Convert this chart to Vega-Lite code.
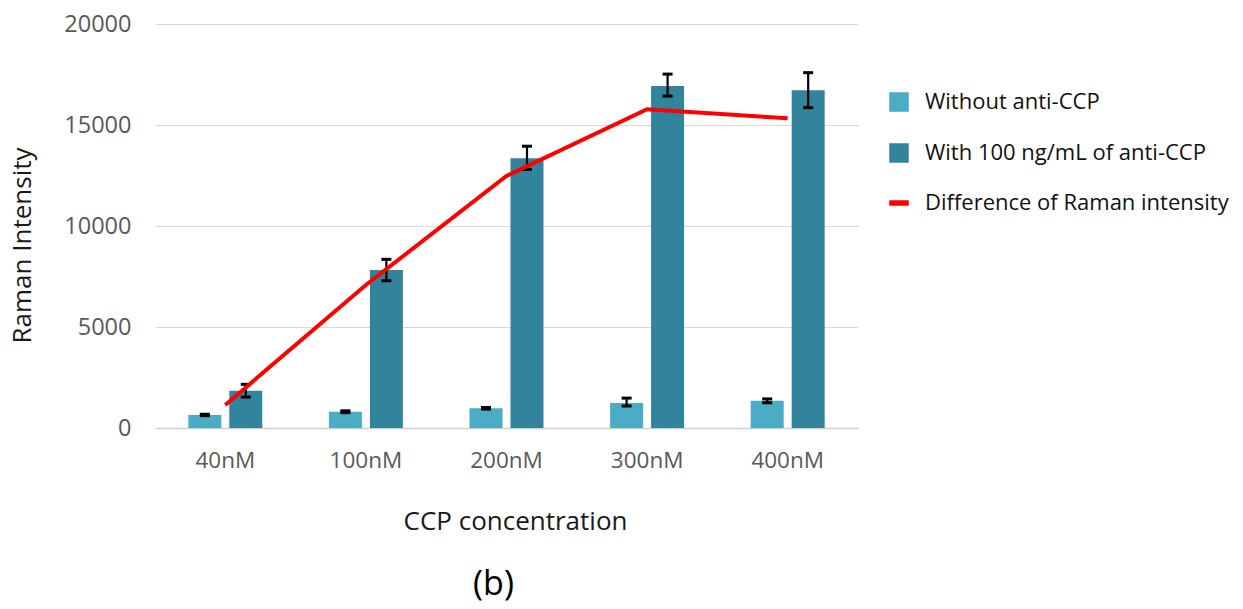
{
  "$schema": "https://vega.github.io/schema/vega-lite/v6.json",
  "autosize": {"type": "none"},
  "width": 703,
  "height": 404,
  "padding": {"left": 155, "top": 24, "right": 385, "bottom": 181},
  "background": "white",
  "config": {
    "view": {"stroke": null},
    "font": "Open Sans"
  },
  "title": {
    "text": "(b)",
    "orient": "bottom",
    "frame": "group",
    "anchor": "middle",
    "dx": -13,
    "offset": 34,
    "fontSize": 34,
    "fontWeight": "normal",
    "color": "#000000"
  },
  "datasets": {
    "bars": [
      {"conc": "40nM", "series": "Without anti-CCP", "value": 645, "lo": 610, "hi": 680},
      {"conc": "40nM", "series": "With 100 ng/mL of anti-CCP", "value": 1850, "lo": 1530, "hi": 2160},
      {"conc": "100nM", "series": "Without anti-CCP", "value": 805, "lo": 760, "hi": 850},
      {"conc": "100nM", "series": "With 100 ng/mL of anti-CCP", "value": 7820, "lo": 7290, "hi": 8350},
      {"conc": "200nM", "series": "Without anti-CCP", "value": 975, "lo": 935, "hi": 1015},
      {"conc": "200nM", "series": "With 100 ng/mL of anti-CCP", "value": 13350, "lo": 12800, "hi": 13950},
      {"conc": "300nM", "series": "Without anti-CCP", "value": 1240, "lo": 1090, "hi": 1480},
      {"conc": "300nM", "series": "With 100 ng/mL of anti-CCP", "value": 16930, "lo": 16430, "hi": 17520},
      {"conc": "400nM", "series": "Without anti-CCP", "value": 1350, "lo": 1250, "hi": 1440},
      {"conc": "400nM", "series": "With 100 ng/mL of anti-CCP", "value": 16720, "lo": 15860, "hi": 17590}
    ],
    "diff": [
      {"conc": "40nM", "series": "Difference of Raman intensity", "value": 1140},
      {"conc": "100nM", "series": "Difference of Raman intensity", "value": 7080},
      {"conc": "200nM", "series": "Difference of Raman intensity", "value": 12475},
      {"conc": "300nM", "series": "Difference of Raman intensity", "value": 15780},
      {"conc": "400nM", "series": "Difference of Raman intensity", "value": 15330}
    ]
  },
  "encoding": {
    "x": {
      "field": "conc",
      "type": "nominal",
      "sort": ["40nM", "100nM", "200nM", "300nM", "400nM"],
      "scale": {"paddingInner": 0.474, "paddingOuter": 0.237},
      "axis": {
        "title": "CCP concentration",
        "titleFontSize": 26,
        "titleFontWeight": "normal",
        "titleColor": "#1a1a1a",
        "titleX": 360,
        "titleY": 93,
        "titleBaseline": "middle",
        "labelAngle": 0,
        "labelFontSize": 22.5,
        "labelColor": "#595959",
        "labelPadding": 21,
        "ticks": false,
        "domainColor": "#d0d0d0",
        "domainWidth": 1.5,
        "grid": false
      }
    }
  },
  "layer": [
    {
      "data": {"name": "bars"},
      "mark": {"type": "bar"},
      "encoding": {
        "xOffset": {
          "field": "series",
          "type": "nominal",
          "scale": {"domain": ["Without anti-CCP", "With 100 ng/mL of anti-CCP"], "paddingInner": 0.195, "paddingOuter": 0}
        },
        "y": {
          "field": "value",
          "type": "quantitative",
          "scale": {"domain": [0, 20000]},
          "axis": {
            "title": "Raman Intensity",
            "titleFontSize": 26,
            "titleFontWeight": "normal",
            "titleColor": "#1a1a1a",
            "titleX": -133,
            "titleY": 221,
            "titleBaseline": "middle",
            "values": [0, 5000, 10000, 15000, 20000],
            "format": "d",
            "labelFontSize": 23.5,
            "labelColor": "#595959",
            "labelPadding": 24,
            "ticks": false,
            "domain": false,
            "gridColor": "#d9d9d9",
            "gridWidth": 1.2
          }
        },
        "color": {
          "field": "series",
          "type": "nominal",
          "scale": {
            "domain": ["Without anti-CCP", "With 100 ng/mL of anti-CCP", "Difference of Raman intensity"],
            "range": ["#4BACC6", "#31849B", "#FF0000"]
          },
          "legend": {
            "title": null,
            "orient": "none",
            "legendX": 733,
            "legendY": 67,
            "labelFontSize": 22,
            "labelColor": "#111111",
            "labelOffset": 15,
            "labelLimit": 0,
            "symbolSize": 324,
            "rowPadding": 27,
            "encode": {
              "symbols": {
                "update": {
                  "shape": {"signal": "datum.value === 'Difference of Raman intensity' ? 'M-1,-0.22H1V0.22H-1Z' : 'square'"},
                  "fill": {"signal": "scale('color', datum.value)"},
                  "stroke": {"value": "transparent"},
                  "opacity": {"value": 1},
                  "fillOpacity": {"value": 1}
                }
              }
            }
          }
        }
      }
    },
    {
      "data": {"name": "bars"},
      "mark": {"type": "rule", "color": "#000000", "strokeWidth": 2.2},
      "encoding": {
        "xOffset": {"field": "series", "type": "nominal"},
        "y": {"field": "lo", "type": "quantitative"},
        "y2": {"field": "hi"}
      }
    },
    {
      "data": {"name": "bars"},
      "mark": {"type": "tick", "color": "#000000", "size": 10, "thickness": 3, "opacity": 1},
      "encoding": {
        "xOffset": {"field": "series", "type": "nominal"},
        "y": {"field": "lo", "type": "quantitative"}
      }
    },
    {
      "data": {"name": "bars"},
      "mark": {"type": "tick", "color": "#000000", "size": 10, "thickness": 3, "opacity": 1},
      "encoding": {
        "xOffset": {"field": "series", "type": "nominal"},
        "y": {"field": "hi", "type": "quantitative"}
      }
    },
    {
      "data": {"name": "diff"},
      "mark": {"type": "line", "strokeWidth": 4, "strokeCap": "butt"},
      "encoding": {
        "y": {"field": "value", "type": "quantitative"},
        "color": {"field": "series", "type": "nominal"}
      }
    }
  ]
}
